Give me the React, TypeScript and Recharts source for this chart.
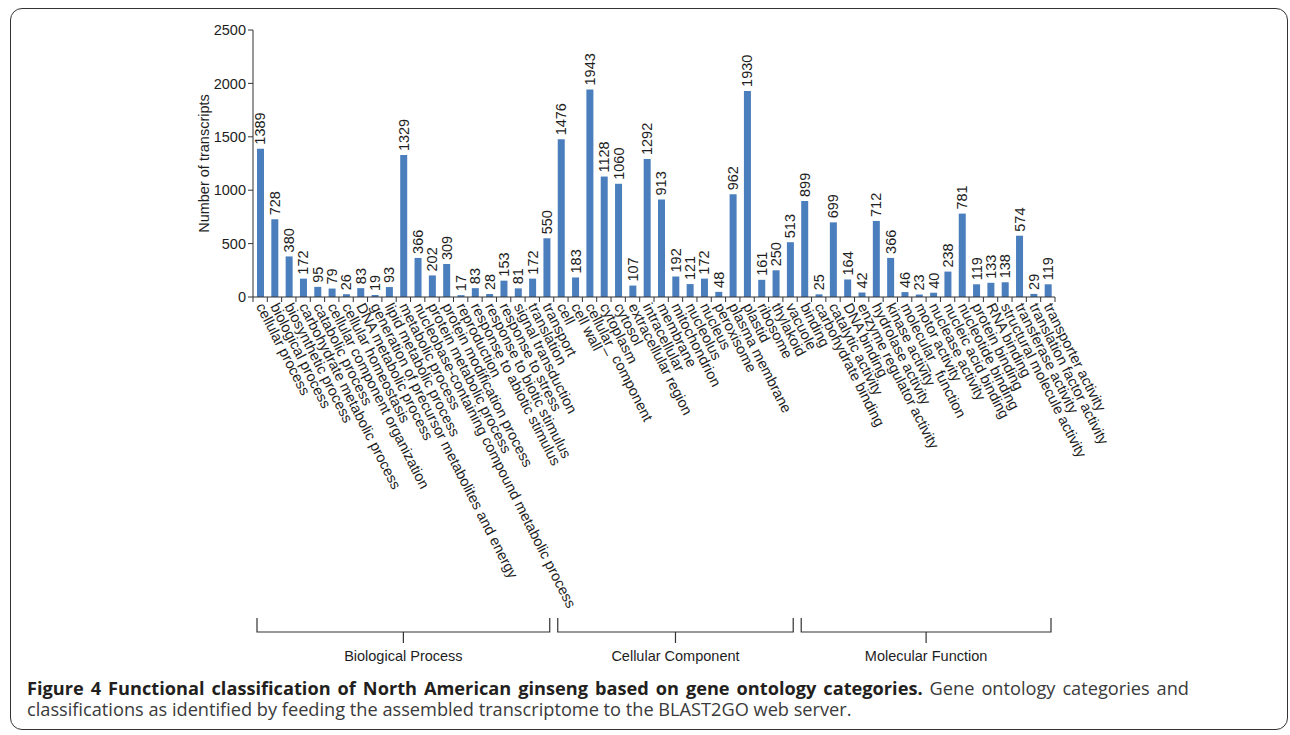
import { BarChart, Bar, XAxis, YAxis, LabelList, Label } from "recharts"

const bpLabels = [
  "cellular process",
  "biological process",
  "biosynthetic process",
  "carbohydrate metabolic process",
  "catabolic process",
  "cellular component organization",
  "cellular homeostasis",
  "DNA metabolic process",
  "generation of precursor metabolites and energy",
  "lipid metabolic process",
  "metabolic process",
  "nucleobase-containing compound metabolic process",
  "protein metabolic process",
  "protein modification process",
  "reproduction",
  "response to abiotic stimulus",
  "response to biotic stimulus",
  "response to stress",
  "signal transduction",
  "translation",
  "transport",
]
const bpValues = [1389, 728, 380, 172, 95, 79, 26, 83, 19, 93, 1329, 366, 202, 309, 17, 83, 28, 153, 81, 172, 550]

const ccLabels = [
  "cell",
  "cell wall",
  "cellular_ component",
  "cytoplasm",
  "cytosol",
  "extracellular region",
  "intracellular",
  "membrane",
  "mitochondrion",
  "nucleolus",
  "nucleus",
  "peroxisome",
  "plasma membrane",
  "plastid",
  "ribosome",
  "thylakoid",
  "vacuole",
]
const ccValues = [1476, 183, 1943, 1128, 1060, 107, 1292, 913, 192, 121, 172, 48, 962, 1930, 161, 250, 513]

const mfLabels = [
  "binding",
  "carbohydrate binding",
  "catalytic activity",
  "DNA binding",
  "enzyme regulator activity",
  "hydrolase activity",
  "kinase activity",
  "molecular_ function",
  "motor activity",
  "nuclease activity",
  "nucleic acid binding",
  "nucleotide binding",
  "protein binding",
  "RNA binding",
  "structural molecule activity",
  "transferase activity",
  "translation factor activity",
  "transporter activity",
]
const mfValues = [899, 25, 699, 164, 42, 712, 366, 46, 23, 40, 238, 781, 119, 133, 138, 574, 29, 119]

const groupNames = ["Biological Process", "Cellular Component", "Molecular Function"]
const yTicks = [0, 500, 1000, 1500, 2000, 2500]

const data = [
  ...bpLabels.map((name, i) => ({ name, value: bpValues[i] })),
  ...ccLabels.map((name, i) => ({ name, value: ccValues[i] })),
  ...mfLabels.map((name, i) => ({ name, value: mfValues[i] })),
]
const groupSizes = [bpLabels.length, ccLabels.length, mfLabels.length]

// layout
const CHART_W = 1220
const CHART_H = 640
const PLOT_LEFT = 253
const PLOT_TOP = 30
const PLOT_BOTTOM = 297
const PLOT_RIGHT = 1055
const BAND = (PLOT_RIGHT - PLOT_LEFT) / data.length

const FONT = "'Liberation Sans', Arial, sans-serif"
const INK = "#1e1e1e"
const AXIS = "#333"

function CategoryTick(props: any) {
  const { x, y, payload, index } = props
  const left = x - BAND / 2
  const ty = y + 7
  return (
    <g>
      <line x1={left} y1={y} x2={left} y2={y + 5} stroke={AXIS} />
      {index === data.length - 1 && (
        <line x1={x + BAND / 2} y1={y} x2={x + BAND / 2} y2={y + 5} stroke={AXIS} />
      )}
      <text
        x={x}
        y={ty}
        transform={`rotate(63, ${x}, ${ty})`}
        textAnchor="start"
        dominantBaseline="central"
        fontSize={14.6}
        fontFamily={FONT}
        fill={INK}
      >
        {payload.value}
      </text>
    </g>
  )
}

function ValueLabel(props: any) {
  const { x, y, width, value } = props
  const cx = x + width / 2
  const cy = y - 4
  return (
    <text
      x={cx}
      y={cy}
      transform={`rotate(-90, ${cx}, ${cy})`}
      textAnchor="start"
      dominantBaseline="central"
      fontSize={14.5}
      fontFamily={FONT}
      fill={INK}
    >
      {value}
    </text>
  )
}

function Brackets() {
  let start = 0
  return (
    <svg
      width={1290}
      height={735}
      style={{ position: "absolute", left: 0, top: 0, pointerEvents: "none" }}
    >
      {groupSizes.map((n, g) => {
        const x1 = PLOT_LEFT + start * BAND + 4
        const x2 = PLOT_LEFT + (start + n) * BAND - 4
        start += n
        const mid = (x1 + x2) / 2
        return (
          <g key={g} stroke={AXIS} strokeWidth={1.2} fill="none">
            <path d={`M${x1},618 V632 H${x2} V618`} />
            <line x1={mid} y1={632} x2={mid} y2={643} />
            <text
              x={mid}
              y={656}
              textAnchor="middle"
              dominantBaseline="central"
              fontSize={14.5}
              fontFamily={FONT}
              fill={INK}
              stroke="none"
            >
              {groupNames[g]}
            </text>
          </g>
        )
      })}
    </svg>
  )
}

export default function App() {
  return (
    <div style={{ position: "relative", width: 1290, height: 735, overflow: "hidden", background: "#fff" }}>
      <style>{`body{margin:0}`}</style>
      <div
        style={{
          position: "absolute",
          left: 10,
          top: 8,
          width: 1278,
          height: 722,
          boxSizing: "border-box",
          border: "1.5px solid #333",
          borderRadius: 12,
        }}
      />
      <div style={{ position: "absolute", left: 0, top: 0 }}>
        <BarChart
          width={CHART_W}
          height={CHART_H}
          data={data}
          margin={{ top: PLOT_TOP, right: CHART_W - PLOT_RIGHT, bottom: 0, left: 0 }}
        >
          <XAxis
            dataKey="name"
            interval={0}
            tickLine={false}
            tickSize={0}
            tickMargin={0}
            height={CHART_H - PLOT_BOTTOM}
            stroke={AXIS}
            tick={<CategoryTick />}
          />
          <YAxis
            width={PLOT_LEFT}
            domain={[0, 2500]}
            ticks={yTicks}
            interval={0}
            tickSize={5}
            tickMargin={2}
            stroke={AXIS}
            tick={{ fontSize: 14.5, fontFamily: FONT, fill: INK }}
          >
            <Label
              content={(p: any) => {
                const vb = p.viewBox
                const lx = vb.x + vb.width - 49
                const ly = vb.y + vb.height / 2
                return (
                  <text
                    x={lx}
                    y={ly}
                    transform={`rotate(-90, ${lx}, ${ly})`}
                    textAnchor="middle"
                    dominantBaseline="central"
                    fontSize={14.5}
                    fontFamily={FONT}
                    fill={INK}
                  >
                    Number of transcripts
                  </text>
                )
              }}
            />
          </YAxis>
          <Bar dataKey="value" fill="#4a7ebd" barSize={7} isAnimationActive={false}>
            <LabelList dataKey="value" content={<ValueLabel />} />
          </Bar>
        </BarChart>
      </div>
      <Brackets />
      <div
        style={{
          position: "absolute",
          left: 27,
          top: 678,
          width: 1162,
          fontFamily: "'Open Sans', sans-serif",
          fontSize: 18.2,
          lineHeight: "21px",
          color: "#3a3a3a",
          textAlign: "justify",
        }}
      >
        <span style={{ fontWeight: 700, color: "#231f20" }}>
          Figure 4 Functional classification of North American ginseng based on gene ontology categories.
        </span>{" "}
        <span>
          Gene ontology categories and classifications as identified by feeding the assembled transcriptome to the
          BLAST2GO web server.
        </span>
      </div>
    </div>
  )
}
